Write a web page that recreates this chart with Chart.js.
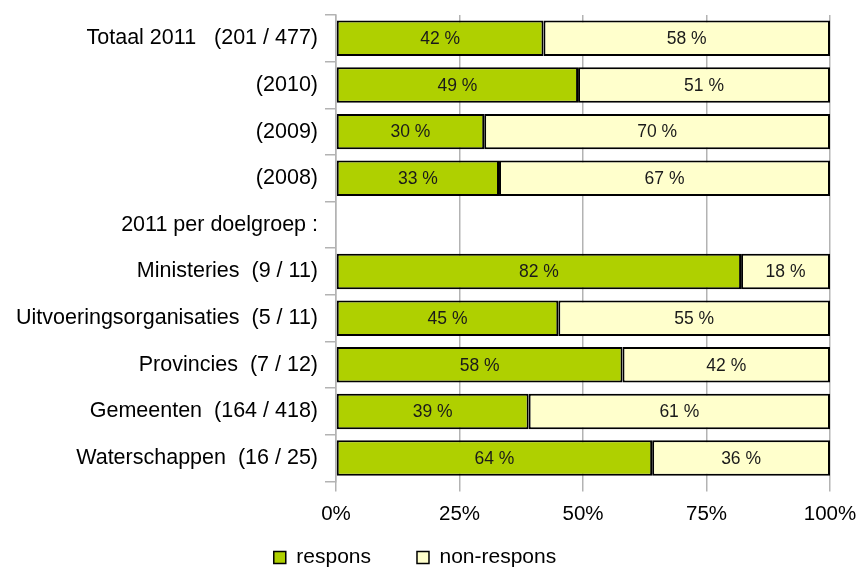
<!DOCTYPE html>
<html>
<head>
<meta charset="utf-8">
<script src="https://cdn.jsdelivr.net/npm/chart.js@4"></script>
<style>
  html, body { margin: 0; padding: 0; background: #fff; }
  #wrap { width: 857px; height: 567px; }
</style>
</head>
<body>
<div id="wrap"><canvas id="responsChart"></canvas></div>
<script>
const categories = [
  'Totaal 2011   (201 / 477)',
  '(2010)',
  '(2009)',
  '(2008)',
  '2011 per doelgroep :',
  'Ministeries  (9 / 11)',
  'Uitvoeringsorganisaties  (5 / 11)',
  'Provincies  (7 / 12)',
  'Gemeenten  (164 / 418)',
  'Waterschappen  (16 / 25)'
];
const respons = [42, 49, 30, 33, null, 82, 45, 58, 39, 64];
const nonRespons = [58, 51, 70, 67, null, 18, 55, 42, 61, 36];
const xTicks = [0, 25, 50, 75, 100];

const fontFamily = "'Liberation Sans', Arial, sans-serif";

// draws "42 %" in the middle of each bar segment
const barLabels = {
  id: 'barLabels',
  afterDatasetsDraw(chart) {
    const ctx = chart.ctx;
    ctx.save();
    ctx.font = '17.5px ' + fontFamily;
    ctx.fillStyle = '#1a1a1a';
    ctx.textAlign = 'center';
    ctx.textBaseline = 'middle';
    chart.data.datasets.forEach((ds, i) => {
      chart.getDatasetMeta(i).data.forEach((bar, j) => {
        const v = ds.data[j];
        if (v === null || v === undefined) return;
        ctx.fillText(v + ' %', (bar.x + bar.base) / 2, bar.y + 1);
      });
    });
    ctx.restore();
  }
};

// legend needs a wide gap between items but sits close to the bottom edge
const legendNudge = {
  id: 'legendNudge',
  afterLayout(chart) {
    chart.legend.top -= 37;
    chart.legend.bottom -= 37;
  }
};

new Chart(document.getElementById('responsChart'), {
  type: 'bar',
  data: {
    labels: categories,
    datasets: [{
      label: 'respons',
      data: respons,
      backgroundColor: '#afd000',
      borderColor: '#000',
      borderWidth: 2,
      borderSkipped: false,
      barPercentage: 0.76,
      categoryPercentage: 1
    }, {
      label: 'non-respons',
      data: nonRespons,
      backgroundColor: '#ffffcc',
      borderColor: '#000',
      borderWidth: 2,
      borderSkipped: false,
      barPercentage: 0.76,
      categoryPercentage: 1
    }]
  },
  options: {
    indexAxis: 'y',
    responsive: true,
    maintainAspectRatio: false,
    animation: false,
    layout: { padding: { top: 15, right: 27, bottom: -48, left: 0 } },
    scales: {
      x: {
        stacked: true,
        min: 0,
        max: 100,
        afterBuildTicks: (scale) => { scale.ticks = xTicks.map(v => ({ value: v })); },
        afterFit: (scale) => { scale.paddingLeft = 0; scale.paddingRight = 0; },
        ticks: {
          callback: (v) => v + '%',
          color: '#000',
          font: { family: fontFamily, size: 20.5 },
          padding: 11
        },
        grid: { color: '#b3b3b3', lineWidth: 1.5, tickLength: 10 },
        border: { display: false }
      },
      y: {
        stacked: true,
        offset: true,
        afterFit: (scale) => { scale.width = 336; scale.paddingTop = 0; scale.paddingBottom = 0; },
        ticks: {
          color: '#000',
          font: { family: fontFamily, size: 21.5 },
          padding: 7
        },
        grid: { color: '#b3b3b3', lineWidth: 1.5, drawOnChartArea: false, tickLength: 11, offset: true },
        border: { color: '#b3b3b3', width: 1.5 }
      }
    },
    plugins: {
      legend: {
        position: 'bottom',
        labels: {
          color: '#000',
          font: { family: fontFamily, size: 21 },
          boxWidth: 12,
          boxHeight: 12,
          padding: 46,
          generateLabels: (chart) => chart.data.datasets.map((ds, i) => ({
            text: ds.label,
            fillStyle: ds.backgroundColor,
            strokeStyle: '#000',
            lineWidth: 1.5,
            datasetIndex: i
          }))
        }
      },
      tooltip: { enabled: false }
    }
  },
  plugins: [barLabels, legendNudge]
});
</script>
</body>
</html>
